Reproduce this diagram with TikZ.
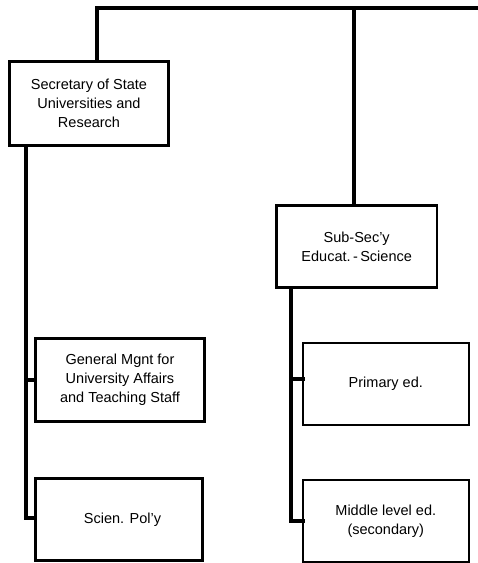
\documentclass[tikz,border=0pt]{standalone}
\usepackage{fontspec}
\setmainfont{Liberation Sans}
\begin{document}
\begin{tikzpicture}[x=1pt,y=-1pt,
  box/.style={draw=black, line width=1.6pt, fill=white, align=center, inner sep=2pt,
    font=\fontsize{14.5pt}{18.8pt}\selectfont, text=black},
  conn/.style={draw=black, line width=4.3pt, line cap=rect, line join=miter}]
\useasboundingbox (0,0) rectangle (478,563);
\coordinate (c1) at (97,8);
\coordinate (tr) at (478,8);
\coordinate (ls) at (26,300);
\coordinate (rs) at (290.7,400);
\node[box, minimum width=158pt, minimum height=83pt] (b1) at (89,103.5) {Secretary of State\\Universities and\\Research};
\node[box, minimum width=160pt, minimum height=81pt] (sub) at (356.7,246.5) {Sub-Sec'y\\Educat.\,-\,Science};
\node[box, minimum width=165pt, minimum height=81pt] (prim) at (385.8,383.8) {Primary ed.};
\node[box, minimum width=165pt, minimum height=81pt] (mid) at (385.8,521) {Middle level ed.\\(secondary)};
\node[box, minimum width=168pt, minimum height=82pt] (gen) at (120,380) {General Mgnt for\\University Affairs\\and Teaching Staff};
\node[box, minimum width=166pt, minimum height=81pt] (sci) at (119,519.5) {\hspace*{7pt}Scien. Pol'y};
\draw[conn] (b1.north -| c1) -- (c1) -- (tr);
\draw[conn] (sub.north -| 354.3,0) -- (354.3,8);
\draw[conn] (b1.south -| ls) |- ([yshift=1.5pt]sci.west);
\draw[conn] (ls |- gen.west) -- (gen.west);
\draw[conn] (sub.south -| rs) |- (mid.west);
\draw[conn] ([yshift=4.8pt]prim.west -| rs) -- ([yshift=4.8pt]prim.west);
\foreach \n in {b1,sub,prim,mid,gen,sci}
  \draw[draw=black, line width=1.6pt] (\n.north west) rectangle (\n.south east);
\end{tikzpicture}
\end{document}
